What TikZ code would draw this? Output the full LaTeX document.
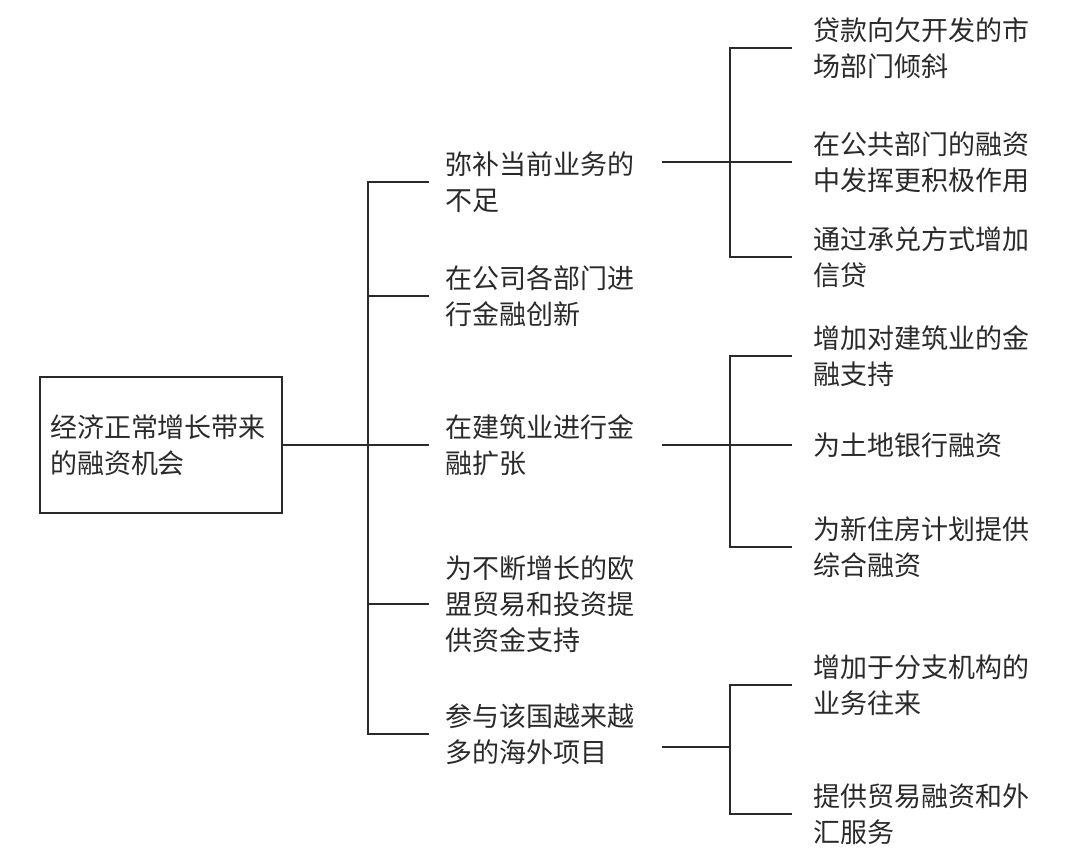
\documentclass[tikz,border=0pt]{standalone}
\usepackage{fontspec}
\setmainfont{Noto Sans CJK SC}
\definecolor{ink}{HTML}{2A2A2A}
\tikzset{
  rootbox/.style={draw=ink, line width=1.4pt, minimum width=242pt, minimum height=136pt, text width=222pt, align=left, inner xsep=10pt},
  midtext/.style={anchor=west, inner xsep=16pt, inner ysep=0pt, text width=201pt, align=left},
  leaftext/.style={anchor=west, inner xsep=21pt, inner ysep=0pt, text width=220pt, align=left},
  link/.style={draw=ink, line width=1.4pt},
}
\begin{document}
\begin{tikzpicture}[x=1pt, y=-1pt, font=\fontsize{27}{36}\selectfont, text=ink]
    \useasboundingbox (0,0) rectangle (1080,857);

    % Root
    \node[rootbox] (root) at (161,445) {经济正常增长带来\\的融资机会};

    % Second level
    \node[midtext] (m1) at (429,182) {弥补当前业务的\\不足};
    \node[midtext] (m2) at (429,296) {在公司各部门进\\行金融创新};
    \node[midtext] (m3) at (429,445) {在建筑业进行金\\融扩张};
    \node[midtext] (m4) at (429,604) {为不断增长的欧\\盟贸易和投资提\\供资金支持};
    \node[midtext] (m5) at (429,734) {参与该国越来越\\多的海外项目};

    % Third level
    \node[leaftext] (l1) at (792,48) {贷款向欠开发的市\\场部门倾斜};
    \node[leaftext] (l2) at (792,162) {在公共部门的融资\\中发挥更积极作用};
    \node[leaftext] (l3) at (792,257) {通过承兑方式增加\\信贷};
    \node[leaftext] (l4) at (792,356) {增加对建筑业的金\\融支持};
    \node[leaftext] (l5) at (792,445) {为土地银行融资};
    \node[leaftext] (l6) at (792,547) {为新住房计划提供\\综合融资};
    \node[leaftext] (l7) at (792,685) {增加于分支机构的\\业务往来};
    \node[leaftext] (l8) at (792,814) {提供贸易融资和外\\汇服务};

    % Trunk
    \coordinate (trunk) at (368,445);
    \draw[link] (root.east) -- (m3.west);
    \draw[link] (m1.west) -| (trunk) |- (m5.west);
    \foreach \n in {m2,m4} {
        \draw[link] (trunk |- \n.west) -- (\n.west);
    }

    % Splits
    \coordinate (s1) at (730,162);
    \coordinate (s2) at (730,445);
    \coordinate (s3) at (730,747);
    \draw[link] ([yshift=20pt]m1.east) -- (l2.west);
    \draw[link] (l1.west) -| (s1) |- (l3.west);
    \draw[link] (m3.east) -- (l5.west);
    \draw[link] (l4.west) -| (s2) |- (l6.west);
    \draw[link] ([yshift=-13pt]m5.east) -- (s3);
    \draw[link] (l7.west) -| (s3) |- (l8.west);
\end{tikzpicture}
\end{document}
